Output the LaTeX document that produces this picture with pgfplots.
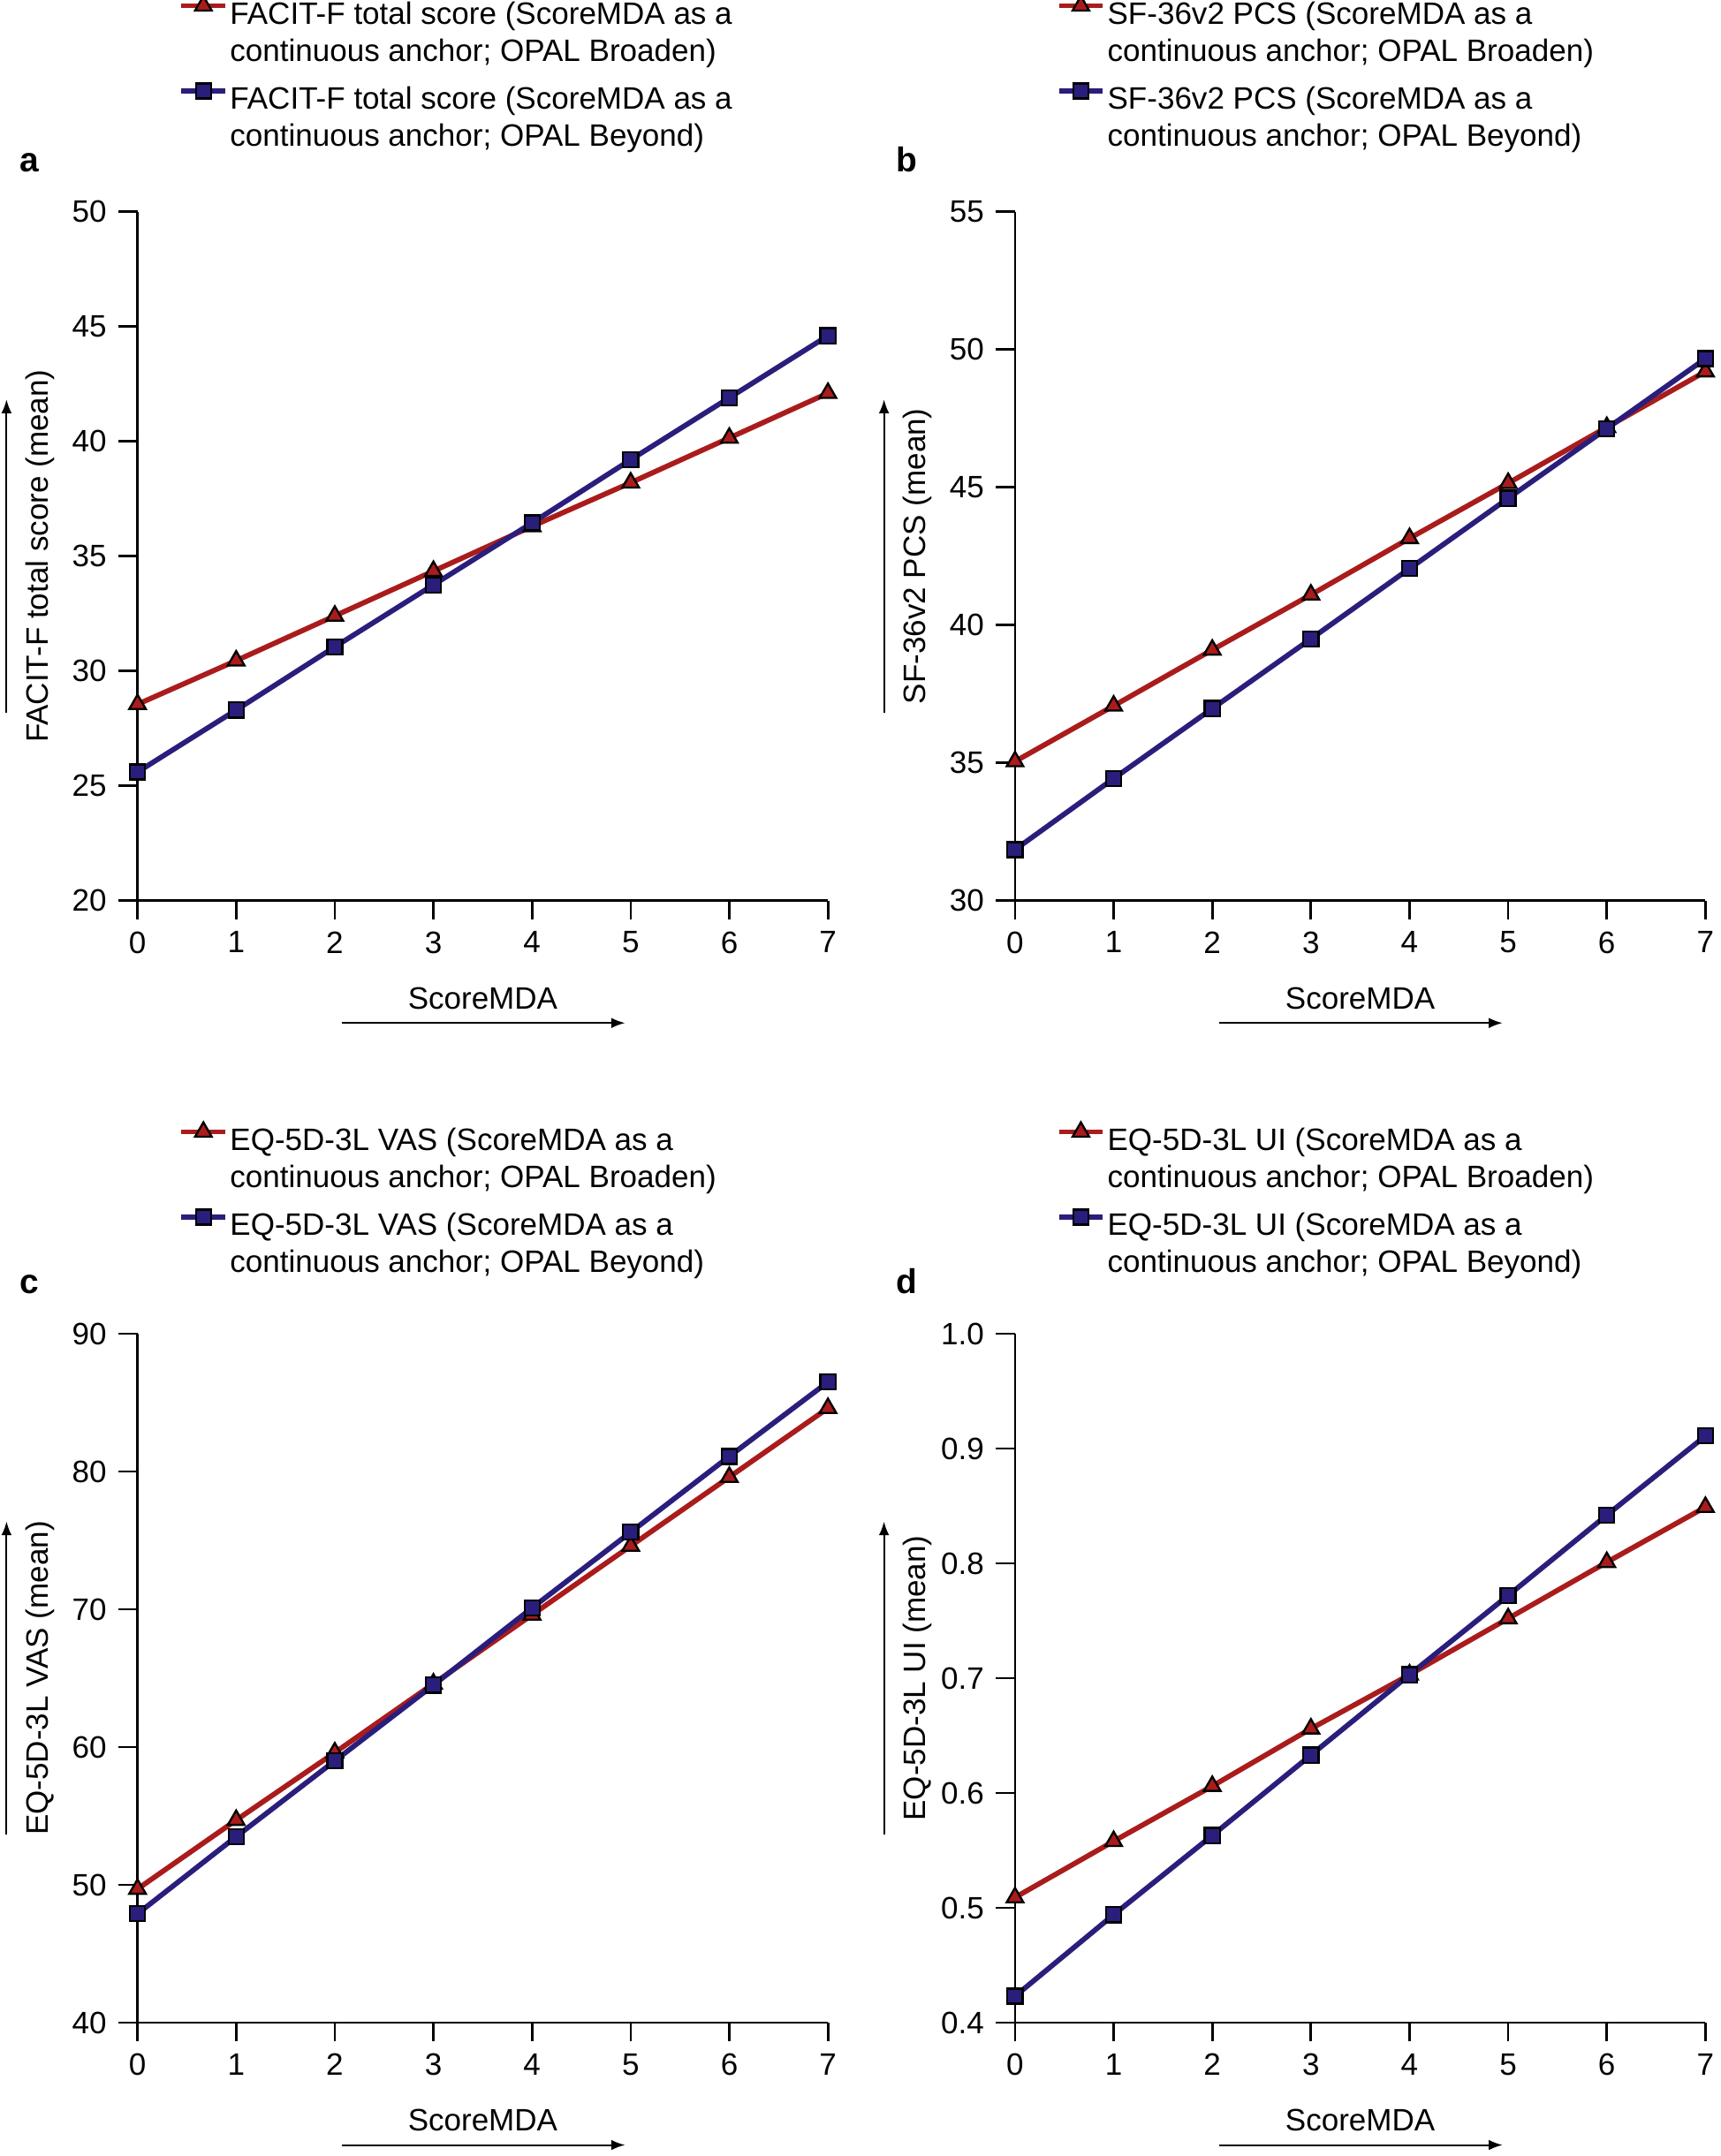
\documentclass[border=0pt]{standalone}
\usepackage{fontspec}
\setmainfont{Liberation Sans}
\usepackage{pgfplots}
\pgfplotsset{compat=1.18}
\usetikzlibrary{arrows.meta}
\definecolor{cred}{RGB}{170,28,28}
\definecolor{cblue}{RGB}{42,30,124}
\newcommand{\dn}[1]{\raisebox{-3.2pt}{#1}}
\pgfplotsset{
  panel/.style={
    scale only axis, width=200.8pt, height=200.4pt, anchor=origin,
    axis x line*=bottom, axis y line*=left,
    xmin=0, xmax=7, xtick={0,1,...,7},
    tick align=outside, major tick length=5.5pt,
    axis line style={line width=0.7pt},
    every tick/.style={line width=0.7pt, black},
    every tick label/.append style={font=\fontsize{9}{10.8}\selectfont},
    /pgf/number format/assume math mode=true,
    clip=false,
    legend style={draw=none, fill=none, inner sep=0pt, outer sep=0pt,
      at={(0.0598,1.313)}, anchor=north west, row sep=0pt, column sep=0.6pt,
      cells={anchor=base west},
      nodes={inner sep=0pt, font=\fontsize{9}{10.8}\selectfont, text height=7.56pt, text depth=3.24pt}},
    legend cell align=left,
    legend image code/.code={\draw[mark repeat=2,mark phase=2] plot coordinates {(0pt,3.2pt)(6.4pt,3.2pt)(12.8pt,3.2pt)};},
  },
  redl/.style={cred, line width=1.5pt, mark=triangle*, mark size=2.8pt,
    mark options={fill=cred, draw=black, line width=0.6pt}},
  bluel/.style={cblue, line width=1.5pt, mark=square*, mark size=2.2pt,
    mark options={fill=cblue, draw=black, line width=0.6pt},
    legend image code/.code={\draw[mark repeat=2,mark phase=2] plot coordinates {(0pt,0pt)(6.4pt,0pt)(12.8pt,0pt)};}},
}
\newcommand{\extras}[3]{%
  \begin{scope}[shift={(#1,#2)}, font=\fontsize{9}{10.8}\selectfont]
    \node[rotate=90, anchor=base, inner sep=0pt] at (-26pt,100.2pt) {#3};
    \draw[line width=0.5pt, -{Latex[length=4pt,width=3pt]}] (-38.1pt,54.6pt) -- (-38.1pt,145.8pt);
    \node[anchor=base, inner sep=0pt] at (100.4pt,-31.6pt) {ScoreMDA};
    \draw[line width=0.5pt, -{Latex[length=4pt,width=3pt]}] (59.4pt,-35.6pt) -- (141.8pt,-35.6pt);
  \end{scope}}
\begin{document}
\begin{tikzpicture}
\useasboundingbox (0,0) rectangle (500.4pt,627.2pt);
% panel a
\begin{axis}[panel, at={(40pt,365.2pt)}, ymin=20, ymax=50, ytick={20,25,...,50}]
\addplot[redl] coordinates {(0,28.55)(1,30.45)(2,32.4)(3,34.35)(4,36.3)(5,38.2)(6,40.15)(7,42.1)};
\addlegendentry{FACIT-F total score (ScoreMDA as a}
\addlegendimage{empty legend}
\addlegendentry{continuous anchor; OPAL Broaden)}
\addplot[bluel] coordinates {(0,25.6)(1,28.3)(2,31.05)(3,33.75)(4,36.45)(5,39.2)(6,41.9)(7,44.6)};
\addlegendentry{\dn{FACIT-F total score (ScoreMDA as a}}
\addlegendimage{empty legend}
\addlegendentry{\dn{continuous anchor; OPAL Beyond)}}
\end{axis}
% panel b
\begin{axis}[panel, at={(295.2pt,365.2pt)}, ymin=30, ymax=55, ytick={30,35,...,55}]
\addplot[redl] coordinates {(0,35.05)(1,37.07)(2,39.1)(3,41.1)(4,43.15)(5,45.15)(6,47.18)(7,49.2)};
\addlegendentry{SF-36v2 PCS (ScoreMDA as a}
\addlegendimage{empty legend}
\addlegendentry{continuous anchor; OPAL Broaden)}
\addplot[bluel] coordinates {(0,31.85)(1,34.43)(2,36.97)(3,39.5)(4,42.05)(5,44.6)(6,47.13)(7,49.67)};
\addlegendentry{\dn{SF-36v2 PCS (ScoreMDA as a}}
\addlegendimage{empty legend}
\addlegendentry{\dn{continuous anchor; OPAL Beyond)}}
\end{axis}
% panel c
\begin{axis}[panel, at={(40pt,38.8pt)}, ymin=40, ymax=90, ytick={40,50,...,90},
  legend style={at={(0.0598,1.307)}}]
\addplot[redl] coordinates {(0,49.7)(1,54.7)(2,59.6)(3,64.6)(4,69.6)(5,74.6)(6,79.6)(7,84.6)};
\addlegendentry{EQ-5D-3L VAS (ScoreMDA as a}
\addlegendimage{empty legend}
\addlegendentry{continuous anchor; OPAL Broaden)}
\addplot[bluel] coordinates {(0,47.9)(1,53.5)(2,59.0)(3,64.5)(4,70.1)(5,75.6)(6,81.1)(7,86.5)};
\addlegendentry{\dn{EQ-5D-3L VAS (ScoreMDA as a}}
\addlegendimage{empty legend}
\addlegendentry{\dn{continuous anchor; OPAL Beyond)}}
\end{axis}
% panel d
\begin{axis}[panel, at={(295.2pt,38.8pt)}, ymin=0.4, ymax=1.0, ytick={0.4,0.5,...,1.0},
  legend style={at={(0.0598,1.307)}},
  yticklabel style={/pgf/number format/.cd, fixed, fixed zerofill, precision=1}]
\addplot[redl] coordinates {(0,0.509)(1,0.558)(2,0.606)(3,0.656)(4,0.703)(5,0.752)(6,0.801)(7,0.849)};
\addlegendentry{EQ-5D-3L UI (ScoreMDA as a}
\addlegendimage{empty legend}
\addlegendentry{continuous anchor; OPAL Broaden)}
\addplot[bluel] coordinates {(0,0.423)(1,0.494)(2,0.563)(3,0.633)(4,0.703)(5,0.772)(6,0.842)(7,0.911)};
\addlegendentry{\dn{EQ-5D-3L UI (ScoreMDA as a}}
\addlegendimage{empty legend}
\addlegendentry{\dn{continuous anchor; OPAL Beyond)}}
\end{axis}
\extras{40pt}{365.2pt}{FACIT-F total score (mean)}
\extras{295.2pt}{365.2pt}{SF-36v2 PCS (mean)}
\extras{40pt}{38.8pt}{EQ-5D-3L VAS (mean)}
\extras{295.2pt}{38.8pt}{EQ-5D-3L UI (mean)}
\node[anchor=base west, inner sep=0pt, font=\fontsize{10}{12}\selectfont\bfseries] at (5.6pt,577.2pt) {a};
\node[anchor=base west, inner sep=0pt, font=\fontsize{10}{12}\selectfont\bfseries] at (260.4pt,577.2pt) {b};
\node[anchor=base west, inner sep=0pt, font=\fontsize{10}{12}\selectfont\bfseries] at (5.6pt,250.8pt) {c};
\node[anchor=base west, inner sep=0pt, font=\fontsize{10}{12}\selectfont\bfseries] at (260.4pt,250.8pt) {d};
\end{tikzpicture}
\end{document}
